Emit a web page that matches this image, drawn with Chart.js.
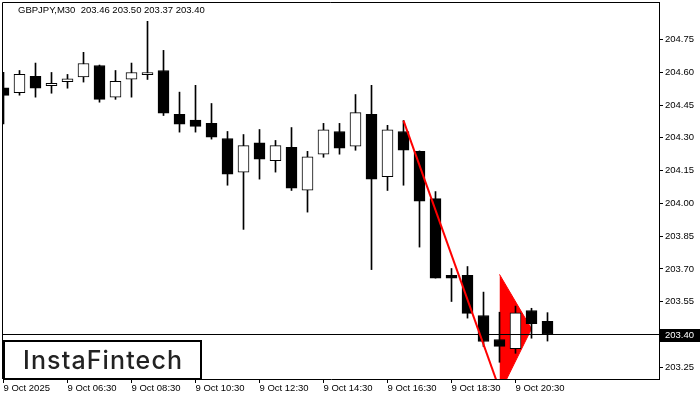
<!DOCTYPE html>
<html>
<head>
<meta charset="utf-8">
<script src="https://cdn.jsdelivr.net/npm/chart.js@4.4.1/dist/chart.umd.min.js"></script>
<style>
html,body{margin:0;padding:0;background:#fff;}
#wrap{width:700px;height:400px;position:relative;}
</style>
</head>
<body>
<div id="wrap"><canvas id="c" width="700" height="400"></canvas></div>
<script>
// ---- data (GBPJPY, M30, 9 Oct 2025 04:30 .. 21:30) ----
const symbolTitle = "GBPJPY,M30  203.46 203.50 203.37 203.40";
const logoText = "InstaFintech";
const candleIndex = [0,1,2,3,4,5,6,7,8,9,10,11,12,13,14,15,16,17,18,19,20,21,22,23,24,25,26,27,28,29,30,31,32,33,34];
const opens  = [204.529,204.506,204.581,204.538,204.557,204.579,204.631,204.486,204.568,204.589,204.608,204.407,204.381,204.366,204.297,204.143,204.277,204.195,204.256,204.060,204.225,204.329,204.262,204.407,204.122,204.329,204.238,204.022,203.671,203.671,203.487,203.377,203.335,203.510,203.460];
const highs  = [204.600,204.608,204.642,204.599,204.590,204.691,204.633,204.608,204.642,204.833,204.700,204.509,204.540,204.457,204.329,204.315,204.338,204.288,204.347,204.238,204.366,204.366,204.498,204.540,204.357,204.379,204.240,204.054,203.702,203.711,203.594,203.502,203.530,203.520,203.500];
const lows   = [204.364,204.495,204.486,204.504,204.527,204.555,204.463,204.476,204.486,204.567,204.402,204.326,204.326,204.294,204.083,203.881,204.111,204.143,204.059,203.960,204.211,204.225,204.243,203.697,204.059,204.083,203.800,203.658,203.551,203.475,203.345,203.273,203.314,203.383,203.370];
const closes = [204.494,204.590,204.527,204.549,204.570,204.640,204.476,204.558,204.599,204.599,204.413,204.362,204.352,204.303,204.134,204.264,204.202,204.264,204.070,204.213,204.337,204.253,204.415,204.111,204.337,204.243,204.010,203.658,203.658,203.497,203.368,203.346,203.499,203.449,203.400];
const lastPrice = 203.40;

const xTickPos    = [0,4,8,12,16,20,24,28,32];
const xTickLabels = ["9 Oct 2025","9 Oct 06:30","9 Oct 08:30","9 Oct 10:30","9 Oct 12:30","9 Oct 14:30","9 Oct 16:30","9 Oct 18:30","9 Oct 20:30"];
const yTickValues = [203.25,203.40,203.55,203.70,203.85,204.00,204.15,204.30,204.45,204.60,204.75];

// pattern: flagpole and pennant (candle index, price)
const flagpoleX = [25, 31];
const flagpoleY = [204.379, 203.150];
const pennantX      = [31, 33];
const pennantTopY   = [203.675, 203.426];
const pennantBotY   = [203.130, 203.426];

// axis ranges
const xMin = -0.03125, xMax = 40.96875;
const yMin = 203.1964, yMax = 204.9214;

// ---- build datasets ----
const wickData = candleIndex.map(i => ({x: i, y: [lows[i], highs[i]]}));
const bodyData = candleIndex.map(i => ({x: i, y: [opens[i], closes[i]]}));
const bodyFill = candleIndex.map(i => closes[i] >= opens[i] ? '#ffffff' : '#000000');
const toPts = (xs, ys) => xs.map((x, k) => ({x: x, y: ys[k]}));

const FONT = {family: '"Liberation Sans", Arial, sans-serif', size: 9.5};

const overlay = {
  id: 'overlay',
  afterDraw(chart) {
    const {ctx, chartArea: a, scales} = chart;
    ctx.save();
    // frame top & left
    ctx.strokeStyle = '#000'; ctx.lineWidth = 1;
    ctx.beginPath();
    ctx.moveTo(a.left - 0.5, a.bottom);
    ctx.lineTo(a.left - 0.5, a.top + 0.5);
    ctx.lineTo(a.right, a.top + 0.5);
    ctx.stroke();
    // title
    ctx.fillStyle = '#000';
    ctx.font = '9.5px "Liberation Sans", Arial, sans-serif';
    ctx.textBaseline = 'alphabetic'; ctx.textAlign = 'left';
    ctx.fillText(symbolTitle, 18, 13);
    // current price box
    const py = scales.y.getPixelForValue(lastPrice);
    ctx.fillStyle = '#000';
    ctx.fillRect(a.right + 1, Math.round(py) - 6, chart.width - a.right - 1, 13);
    ctx.fillStyle = '#fff'; ctx.textBaseline = 'middle';
    ctx.fillText(lastPrice.toFixed(2), a.right + 6, py + 0.5);
    // logo
    const lx = a.left, ly = a.bottom - 39, lw = 199, lh = 40;
    ctx.fillStyle = '#fff'; ctx.fillRect(lx, ly, lw, lh);
    ctx.strokeStyle = '#000'; ctx.lineWidth = 2;
    ctx.strokeRect(lx + 1, ly + 1, lw - 2, lh - 2);
    ctx.fillStyle = '#222';
    ctx.font = '500 25px Inter, "Noto Sans", sans-serif';
    ctx.textBaseline = 'alphabetic';
    const target = 159;
    const w = ctx.measureText(logoText).width;
    if ('letterSpacing' in ctx) {
      ctx.letterSpacing = ((target - w) / 11) + 'px';
      ctx.fillText(logoText, lx + 20, ly + 28.5);
    } else {
      ctx.translate(lx + 20, ly + 28.5); ctx.scale(target / w, 1);
      ctx.fillText(logoText, 0, 0);
    }
    ctx.restore();
  }
};

new Chart(document.getElementById('c'), {
  type: 'bar',
  data: {
    datasets: [
      { type: 'line', label: 'pennantTop', data: toPts(pennantX, pennantTopY),
        borderColor: '#ff0000', borderWidth: 1, pointRadius: 0, fill: false, order: 6 },
      { type: 'line', label: 'pennantBottom', data: toPts(pennantX, pennantBotY),
        borderColor: '#ff0000', borderWidth: 1, pointRadius: 0, fill: '-1',
        backgroundColor: '#ff0000', order: 5 },
      { type: 'bar', label: 'wicks', data: wickData, backgroundColor: '#000', borderWidth: 0,
        barThickness: 1, grouped: false, order: 4 },
      { type: 'bar', label: 'bodies', data: bodyData, backgroundColor: bodyFill, borderColor: '#000',
        borderWidth: 1, borderSkipped: false, barThickness: 11, grouped: false, order: 3 },
      { type: 'line', label: 'price', data: toPts([xMin - 1, xMax + 1], [lastPrice, lastPrice]),
        borderColor: '#000', borderWidth: 1, pointRadius: 0, fill: false, order: 2 },
      { type: 'line', label: 'flagpole', data: toPts(flagpoleX, flagpoleY),
        borderColor: '#ff0000', borderWidth: 2, pointRadius: 0, fill: false, order: 1 }
    ]
  },
  options: {
    responsive: false,
    animation: false,
    events: [],
    devicePixelRatio: 1,
    layout: { padding: { left: 3, top: 2, right: 0, bottom: 0 } },
    plugins: { legend: { display: false }, tooltip: { enabled: false }, title: { display: false } },
    scales: {
      x: {
        type: 'linear', min: xMin, max: xMax, offset: false,
        grid: { display: true, drawOnChartArea: false, drawTicks: true, tickLength: 4, color: '#000', offset: false },
        border: { display: true, color: '#000' },
        afterBuildTicks: s => { s.ticks = xTickPos.map(v => ({value: v})); },
        afterFit: s => { s.height = 21; s.paddingLeft = 0; s.paddingRight = 0; },
        ticks: { autoSkip: false, maxRotation: 0, minRotation: 0, align: 'start', padding: 0, color: '#000',
                 font: FONT, callback: (v, i) => xTickLabels[i] }
      },
      y: {
        type: 'linear', position: 'right', min: yMin, max: yMax, beginAtZero: false,
        grid: { drawOnChartArea: false, drawTicks: true, tickLength: 4, color: '#000' },
        border: { display: true, color: '#000' },
        afterBuildTicks: s => { s.ticks = yTickValues.map(v => ({value: v})); },
        afterFit: s => { s.width = 41; s.paddingTop = 0; s.paddingBottom = 0; },
        ticks: { padding: 2, color: '#000', font: FONT, callback: v => v.toFixed(2) }
      }
    }
  },
  plugins: [overlay]
});
</script>
</body>
</html>
